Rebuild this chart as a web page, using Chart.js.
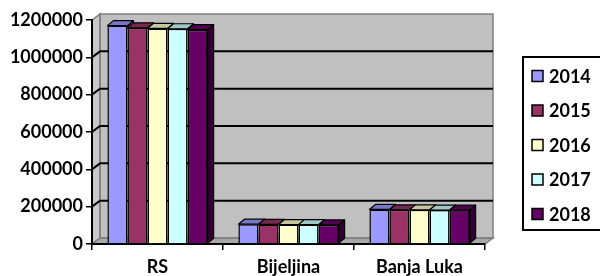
<!DOCTYPE html>
<html>
<head>
<meta charset="utf-8">
<script src="https://cdn.jsdelivr.net/npm/chart.js@4.4.1/dist/chart.umd.min.js"></script>
<style>
  html, body { margin: 0; padding: 0; background: #fff; }
  #wrap { width: 600px; height: 276px; }
</style>
</head>
<body>
<div id="wrap"><canvas id="chart" width="600" height="276"></canvas></div>
<script>
// podaci
const categories = ['RS', 'Bijeljina', 'Banja Luka'];
const years = ['2014', '2015', '2016', '2017', '2018'];
const values2014 = [1170000, 106000, 185000];
const values2015 = [1158000, 105000, 183000];
const values2016 = [1155000, 104000, 183000];
const values2017 = [1153000, 104000, 182000];
const values2018 = [1148000, 102000, 181000];
const yMax = 1200000;
const yStep = 200000;

const seriesValues = [values2014, values2015, values2016, values2017, values2018];
const seriesColors = ['#9999FF', '#993366', '#FFFFCC', '#CCFFFF', '#660066'];

const FONT = 'Lato, "Open Sans", sans-serif';
const WALL_DX = 8, WALL_DY = -6;   // dubina zidova
const BAR_DX = 6, BAR_DY = -5;     // dubina stubaca

// potamni boju
function shade(hex, f) {
    const n = parseInt(hex.slice(1), 16);
    const r = Math.round(((n >> 16) & 255) * f);
    const g = Math.round(((n >> 8) & 255) * f);
    const b = Math.round((n & 255) * f);
    return `rgb(${r},${g},${b})`;
}

// zidovi i linije mreze iza stubaca
const wallsPlugin = {
    id: 'walls',
    beforeDraw(chart) {
        const ctx = chart.ctx;
        const a = chart.chartArea;
        const y = chart.scales.y;
        ctx.save();
        // zadnji zid
        ctx.fillStyle = '#C0C0C0';
        ctx.fillRect(a.left + WALL_DX, a.top + WALL_DY, a.right - a.left, a.bottom - a.top);
        // lijevi zid
        ctx.beginPath();
        ctx.moveTo(a.left, a.top);
        ctx.lineTo(a.left + WALL_DX, a.top + WALL_DY);
        ctx.lineTo(a.left + WALL_DX, a.bottom + WALL_DY);
        ctx.lineTo(a.left, a.bottom);
        ctx.closePath();
        ctx.fillStyle = '#C8C8C8';
        ctx.fill();
        ctx.strokeStyle = '#808080';
        ctx.lineWidth = 1.5;
        ctx.stroke();
        // pod
        ctx.beginPath();
        ctx.moveTo(a.left, a.bottom);
        ctx.lineTo(a.left + WALL_DX, a.bottom + WALL_DY);
        ctx.lineTo(a.right + WALL_DX, a.bottom + WALL_DY);
        ctx.lineTo(a.right, a.bottom);
        ctx.closePath();
        ctx.fillStyle = '#A8A8A8';
        ctx.fill();
        ctx.stroke();
        // okvir zadnjeg zida
        ctx.strokeRect(a.left + WALL_DX, a.top + WALL_DY, a.right - a.left, a.bottom - a.top);
        // linije mreze
        ctx.strokeStyle = '#000';
        ctx.lineWidth = 2;
        y.ticks.forEach(t => {
            if (t.value === 0 || t.value === yMax) return;
            const py = y.getPixelForValue(t.value);
            ctx.beginPath();
            ctx.moveTo(a.left, py);
            ctx.lineTo(a.left + WALL_DX, py + WALL_DY);
            ctx.lineTo(a.right + WALL_DX, py + WALL_DY);
            ctx.stroke();
        });
        ctx.restore();
    }
};

// vrh i bocna strana stubaca; bok se vidi samo iznad susjednog stupca
const barsPlugin = {
    id: 'bars3d',
    afterDatasetsDraw(chart) {
        const ctx = chart.ctx;
        const metas = chart.data.datasets.map((ds, i) => chart.getDatasetMeta(i));
        ctx.save();
        ctx.strokeStyle = '#000';
        ctx.lineWidth = 1.2;
        ctx.lineJoin = 'round';
        metas.forEach((meta, i) => {
            const color = chart.data.datasets[i].backgroundColor;
            meta.data.forEach((bar, j) => {
                const l = bar.x - bar.width / 2;
                const r = bar.x + bar.width / 2;
                const next = metas[i + 1] ? metas[i + 1].data[j] : null;
                // bocna strana
                ctx.save();
                if (next) {
                    ctx.beginPath();
                    ctx.rect(r - 2, 0, BAR_DX + 4, next.y);
                    ctx.clip();
                }
                ctx.beginPath();
                ctx.moveTo(r, bar.y);
                ctx.lineTo(r + BAR_DX, bar.y + BAR_DY);
                ctx.lineTo(r + BAR_DX, bar.base + BAR_DY);
                ctx.lineTo(r, bar.base);
                ctx.closePath();
                ctx.fillStyle = shade(color, 0.5);
                ctx.fill();
                ctx.stroke();
                ctx.restore();
                // vrh
                ctx.beginPath();
                ctx.moveTo(l, bar.y);
                ctx.lineTo(l + BAR_DX, bar.y + BAR_DY);
                ctx.lineTo(r + BAR_DX, bar.y + BAR_DY);
                ctx.lineTo(r, bar.y);
                ctx.closePath();
                ctx.fillStyle = shade(color, 0.78);
                ctx.fill();
                ctx.stroke();
            });
        });
        ctx.restore();
    }
};

// legenda u okviru desno
const legendPlugin = {
    id: 'boxLegend',
    afterDraw(chart) {
        const ctx = chart.ctx;
        ctx.save();
        ctx.strokeStyle = '#000';
        ctx.lineWidth = 2;
        ctx.strokeRect(523, 57, 90, 173);
        ctx.font = 'bold 18px ' + FONT;
        ctx.textBaseline = 'middle';
        ctx.textAlign = 'left';
        chart.data.datasets.forEach((ds, i) => {
            const cy = 76 + i * 34.5;
            ctx.fillStyle = ds.backgroundColor;
            ctx.fillRect(532, cy - 5.5, 11, 11);
            ctx.lineWidth = 1.5;
            ctx.strokeRect(532, cy - 5.5, 11, 11);
            ctx.fillStyle = '#000';
            ctx.fillText(ds.label, 549, cy + 1);
        });
        ctx.restore();
    }
};

Chart.defaults.font.family = FONT;
Chart.defaults.font.weight = 'bold';
Chart.defaults.font.size = 18;
Chart.defaults.color = '#000';

new Chart(document.getElementById('chart'), {
    type: 'bar',
    data: {
        labels: categories,
        datasets: years.map((yr, i) => ({
            label: yr,
            data: seriesValues[i],
            backgroundColor: seriesColors[i],
            borderColor: '#000',
            borderWidth: 1.5
        }))
    },
    options: {
        responsive: false,
        animation: false,
        devicePixelRatio: 1,
        layout: { padding: { top: 20, right: 115, left: 0, bottom: 0 } },
        categoryPercentage: 0.765,
        barPercentage: 1.0,
        plugins: {
            legend: { display: false },
            tooltip: { enabled: false }
        },
        scales: {
            x: {
                grid: {
                    offset: true,
                    drawOnChartArea: false,
                    tickLength: 6,
                    color: '#000',
                    lineWidth: 1.5
                },
                border: { color: '#000', width: 2 },
                ticks: { padding: 6, font: { size: 18, weight: 'bold' } },
                afterFit(scale) { scale.height = 32; }
            },
            y: {
                min: 0,
                max: yMax,
                ticks: {
                    stepSize: yStep,
                    padding: 3,
                    font: { size: 18, weight: 'bold' },
                    callback: v => String(v)
                },
                grid: {
                    drawOnChartArea: false,
                    tickLength: 6,
                    color: '#000',
                    lineWidth: 1.5
                },
                border: { color: '#000', width: 2 },
                afterFit(scale) { scale.width = 92; }
            }
        }
    },
    plugins: [wallsPlugin, barsPlugin, legendPlugin]
});
</script>
</body>
</html>
